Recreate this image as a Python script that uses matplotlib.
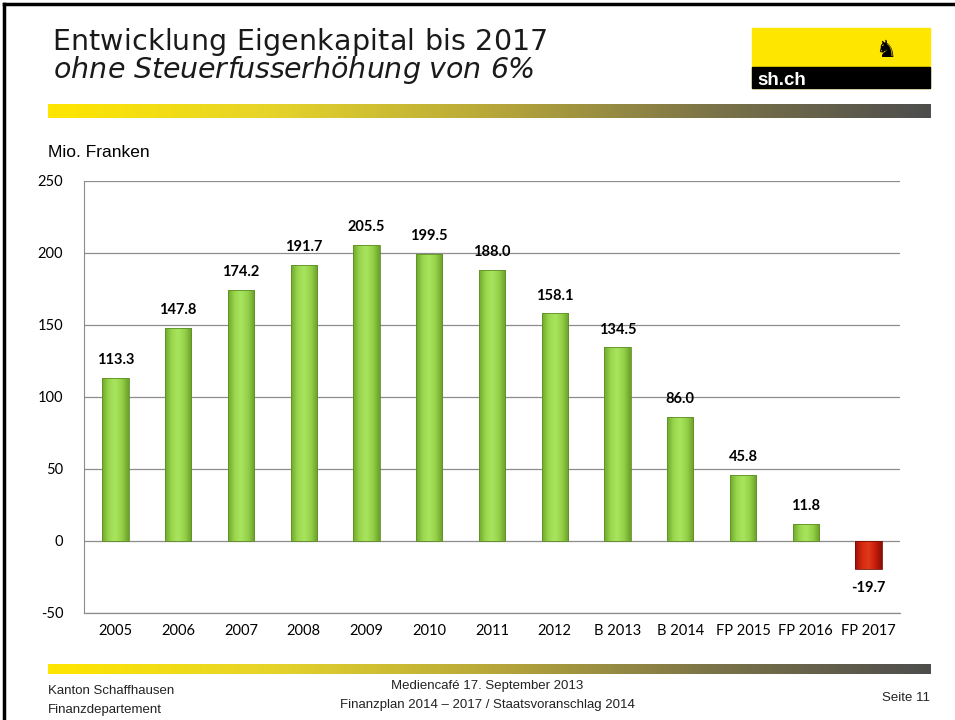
import matplotlib
matplotlib.use("Agg")
import matplotlib.pyplot as plt
import numpy as np
from matplotlib.colors import LinearSegmentedColormap
from matplotlib.patches import Rectangle

plt.rcParams["axes.unicode_minus"] = False

# data
categories = ["2005", "2006", "2007", "2008", "2009", "2010", "2011", "2012",
              "B 2013", "B 2014", "FP 2015", "FP 2016", "FP 2017"]
values = [113.3, 147.8, 174.2, 191.7, 205.5, 199.5, 188.0, 158.1,
          134.5, 86.0, 45.8, 11.8, -19.7]
yticks = [-50, 0, 50, 100, 150, 200, 250]

W, H = 955, 720
fig = plt.figure(figsize=(W / 100, H / 100), dpi=100)
fig.patch.set_facecolor("white")
renderer = fig.canvas.get_renderer()


def px(x, y):
    return x / W, 1 - y / H


def tracked_text(x0, y, s, target_w, **kw):
    # place the string char by char so it spans target_w pixels
    widths = []
    for ch in s:
        t = fig.text(0, 0, ch if ch != " " else "n", **kw)
        w = t.get_window_extent(renderer).width
        t.remove()
        widths.append(w * (0.5 if ch == " " else 1.0))
    track = (target_w - sum(widths)) / (len(s) - 1)
    x = x0
    for ch, w in zip(s, widths):
        if ch != " ":
            fig.text(*px(x, y), ch, va="baseline", **kw)
        x += w + track


# slide frame (left + top black lines)
fig.add_artist(plt.Line2D([4 / W, 4 / W], [0, 1 - 4 / H], color="black", lw=2.5))
fig.add_artist(plt.Line2D([4 / W, 1], [1 - 4 / H, 1 - 4 / H], color="black", lw=2.5))

# title
tracked_text(52, 50, "Entwicklung Eigenkapital bis 2017", 496,
             fontsize=20.5, family="DejaVu Sans", color="#1a1a1a")
tracked_text(54, 78, "ohne Steuerfusserhöhung von 6%", 481,
             fontsize=20.5, family="DejaVu Sans", style="italic", color="#1a1a1a")

# logo
lx0, lx1, ly0, ly1 = 752, 930, 28, 88
fig.add_artist(Rectangle(px(lx0, ly1), (lx1 - lx0) / W, (ly1 - ly0) / H,
                         transform=fig.transFigure, color="#FFE600", zorder=1))
fig.add_artist(Rectangle(px(lx0, ly1), (lx1 - lx0) / W, 21 / H,
                         transform=fig.transFigure, color="black", zorder=2))
fig.text(*px(757, 85), "sh.ch", fontsize=13.5, weight="bold", color="white",
         family="Liberation Sans", va="baseline", zorder=3)
fig.text(*px(886, 50), "♞", fontsize=17, color="black", family="DejaVu Sans",
         va="center", ha="center", zorder=3)

# gradient strips
cmap_strip = LinearSegmentedColormap.from_list(
    "strip", ["#FFE600", "#E6D42A", "#B8A83A", "#7C7448", "#4D4D4D"])
grad = np.linspace(0, 1, 256).reshape(1, -1)
for y0, y1 in [(104, 118), (664, 674)]:
    sax = fig.add_axes([48 / W, 1 - y1 / H, (930 - 48) / W, (y1 - y0) / H])
    sax.imshow(grad, aspect="auto", cmap=cmap_strip)
    sax.axis("off")

fig.text(*px(48, 157), "Mio. Franken", fontsize=12.5, family="Liberation Sans",
         va="baseline")

# footer
ff = dict(fontsize=9.5, family="Liberation Sans", color="#222222", va="baseline")
fig.text(*px(48, 694), "Kanton Schaffhausen", **ff)
fig.text(*px(48, 713), "Finanzdepartement", **ff)
fig.text(*px(487, 689), "Mediencafé 17. September 2013", ha="center", **ff)
fig.text(*px(487, 708), "Finanzplan 2014 – 2017 / Staatsvoranschlag 2014", ha="center", **ff)
fig.text(*px(930, 701), "Seite 11", ha="right", **ff)

# chart
ax = fig.add_axes([84 / W, 1 - 613 / H, (900 - 84) / W, (613 - 181) / H])
x = np.arange(len(categories))
width = 0.42
bars = ax.bar(x, values, width=width, color="none", zorder=3)

green = LinearSegmentedColormap.from_list("g", ["#6FA82C", "#9BD84E", "#A9E45E", "#94D048", "#6A9F28"])
red = LinearSegmentedColormap.from_list("r", ["#9E1005", "#D42A10", "#E03A1A", "#C81E0A", "#8E0C04"])
hgrad = np.linspace(0, 1, 64).reshape(1, -1)
for b, v in zip(bars, values):
    cm = green if v >= 0 else red
    x0 = b.get_x()
    y0, y1 = sorted([0, v])
    im = ax.imshow(hgrad, aspect="auto", cmap=cm, extent=[x0, x0 + width, y0, y1],
                   zorder=3, interpolation="bicubic")
    clip = Rectangle((x0, y0), width, y1 - y0, transform=ax.transData)
    im.set_clip_path(clip)
    ax.add_patch(Rectangle((x0, y0), width, y1 - y0, fill=False,
                           edgecolor="#5E8F26" if v >= 0 else "#7A0A03",
                           lw=0.6, zorder=4))
    if v >= 0:
        ax.text(b.get_x() + width / 2, v + 7.5, f"{v:.1f}", ha="center", va="bottom",
                fontsize=10.5, weight="bold", family="Lato")
    else:
        ax.text(b.get_x() + width / 2, v - 8, f"{v:.1f}", ha="center", va="top",
                fontsize=10.5, weight="bold", family="Lato")

ax.set_xlim(-0.5, len(categories) - 0.5)
ax.set_ylim(-50, 250)
ax.set_yticks(yticks)
ax.set_xticks(x)
ax.set_xticklabels(categories, fontsize=10.5, family="Lato")
ax.tick_params(axis="y", labelsize=10.5, length=0, pad=15)
ax.tick_params(axis="x", length=0, pad=8)
for lab in ax.get_yticklabels():
    lab.set_family("Lato")
ax.grid(axis="y", color="#8c8c8c", lw=0.9, zorder=1)
ax.axhline(-50, color="#8c8c8c", lw=0.9, zorder=1, clip_on=False)
for s in ["top", "right", "bottom"]:
    ax.spines[s].set_visible(False)
ax.spines["left"].set_color("#8c8c8c")
ax.set_facecolor("white")

fig.savefig("out.png", dpi=100)
